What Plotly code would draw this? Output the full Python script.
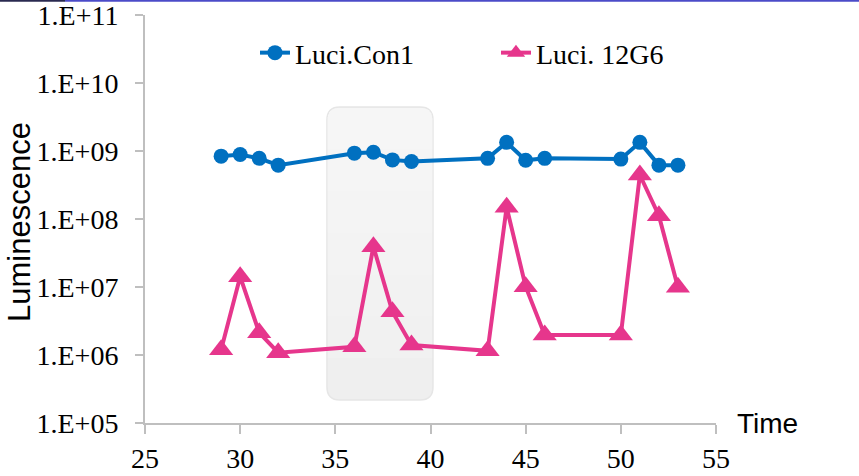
import plotly.graph_objects as go

# ---- data ----
time = [29, 30, 31, 32, 36, 37, 38, 39, 43, 44, 45, 46, 50, 51, 52, 53]
con1 = [8.4e8, 8.9e8, 7.8e8, 6.2e8, 9.3e8, 9.6e8, 7.4e8, 7.0e8,
        7.8e8, 1.34e9, 7.3e8, 7.8e8, 7.6e8, 1.34e9, 6.2e8, 6.2e8]
g12g6 = [1.19e6, 1.42e7, 2.13e6, 1.08e6, 1.32e6, 3.92e7, 4.33e6, 1.40e6,
         1.15e6, 1.49e8, 1.01e7, 1.97e6, 1.97e6, 4.44e8, 1.12e8, 9.9e6]
series_names = ["Luci.Con1", "Luci. 12G6"]
ytick_vals = [1e5, 1e6, 1e7, 1e8, 1e9, 1e10, 1e11]
ytick_text = ["1.E+05", "1.E+06", "1.E+07", "1.E+08", "1.E+09", "1.E+10", "1.E+11"]
xtick_vals = [25, 30, 35, 40, 45, 50, 55]
highlight = [34.56, 40.13]  # shaded time window

BLUE = "#0070C0"
PINK = "#E6368C"
AXIS = "#BFBFBF"
SERIF = "Liberation Serif, Times New Roman, serif"
SANS = "Liberation Sans, Arial, sans-serif"

fig = go.Figure()
fig.add_trace(go.Scatter(x=time, y=con1, name=series_names[0], mode="lines+markers",
                         line=dict(color=BLUE, width=4),
                         marker=dict(symbol="circle", size=15, color=BLUE)))
fig.add_trace(go.Scatter(x=time, y=g12g6, name=series_names[1], mode="lines+markers",
                         line=dict(color=PINK, width=4),
                         marker=dict(symbol="triangle-up", size=21, color=PINK)))

# rounded shaded rectangle with a soft vertical gradient
x0, x1 = highlight
y0, y1 = 0.0564, 0.7745
rx, ry = 0.68, 0.032


def rounded(xa, xb, ya, yb, round_bottom=True):
    p = f"M {xa+rx},{yb} L {xb-rx},{yb} Q {xb},{yb} {xb},{yb-ry} "
    if round_bottom:
        p += f"L {xb},{ya+ry} Q {xb},{ya} {xb-rx},{ya} L {xa+rx},{ya} Q {xa},{ya} {xa},{ya+ry} "
    else:
        p += f"L {xb},{ya} L {xa},{ya} "
    p += f"L {xa},{yb-ry} Q {xa},{yb} {xa+rx},{yb} Z"
    return p


shapes = [dict(type="path", xref="x", yref="paper", path=rounded(x0, x1, y0, y1),
               fillcolor="#EFEFEF", line=dict(color="#E6E6E6", width=1.5), layer="below")]
n = 6
for i in range(n):
    yb = y1 - (y1 - y0) * (i + 1) / (n + 1)
    shapes.append(dict(type="path", xref="x", yref="paper",
                       path=rounded(x0 + 0.02, x1 - 0.02, yb, y1 - 0.002, round_bottom=False),
                       fillcolor="rgba(255,255,255,0.13)", line=dict(width=0), layer="below"))

# top border strip (as in the reference crop)
shapes.append(dict(type="line", xref="paper", yref="paper", x0=-0.14, x1=1.26,
                   y0=1.0355, y1=1.0355, line=dict(color="#4B4BC8", width=2.5)))
shapes.append(dict(type="line", xref="paper", yref="paper", x0=-0.254, x1=-0.14,
                   y0=1.0355, y1=1.0355, line=dict(color="#2A2A50", width=2.5)))

fig.update_layout(
    width=859, height=476,
    margin=dict(l=145, r=143, t=15, b=53, autoexpand=False),
    paper_bgcolor="white", plot_bgcolor="white",
    shapes=shapes,
    showlegend=True,
    legend=dict(orientation="h", x=0.1926, xanchor="left", y=0.907, yanchor="middle",
                font=dict(family=SERIF, size=28, color="black"),
                bgcolor="rgba(0,0,0,0)", entrywidth=196, entrywidthmode="pixels"),
    xaxis=dict(range=[25, 55], tickvals=xtick_vals, showgrid=False, zeroline=False,
               automargin=False,
               showline=True, linecolor=AXIS, linewidth=2, ticks="outside", ticklen=9,
               tickcolor=AXIS, tickwidth=2, ticklabelstandoff=0,
               tickfont=dict(family=SERIF, size=28, color="black")),
    yaxis=dict(type="log", range=[4.9995, 11.0005], tickvals=ytick_vals, ticktext=ytick_text,
               automargin=False, ticklabeloverflow="allow",
               showgrid=False, zeroline=False, showline=True, linecolor=AXIS, linewidth=2,
               ticks="outside", ticklen=8, tickcolor=AXIS, tickwidth=2,
               ticklabelstandoff=11,
               tickfont=dict(family=SERIF, size=28, color="black")),
    annotations=[
        dict(text="Time", xref="paper", yref="paper", x=1.033, y=0.0, xanchor="left",
             yanchor="middle", showarrow=False, font=dict(family=SANS, size=28, color="black")),
        dict(text="Luminescence", xref="paper", yref="paper", x=-0.2207, y=0.4926,
             xanchor="center", yanchor="middle", textangle=-90, showarrow=False,
             font=dict(family=SANS, size=31, color="black")),
    ],
)

fig.write_html("out.html", config={"displayModeBar": False},
               post_script="document.body.style.margin='0';")
